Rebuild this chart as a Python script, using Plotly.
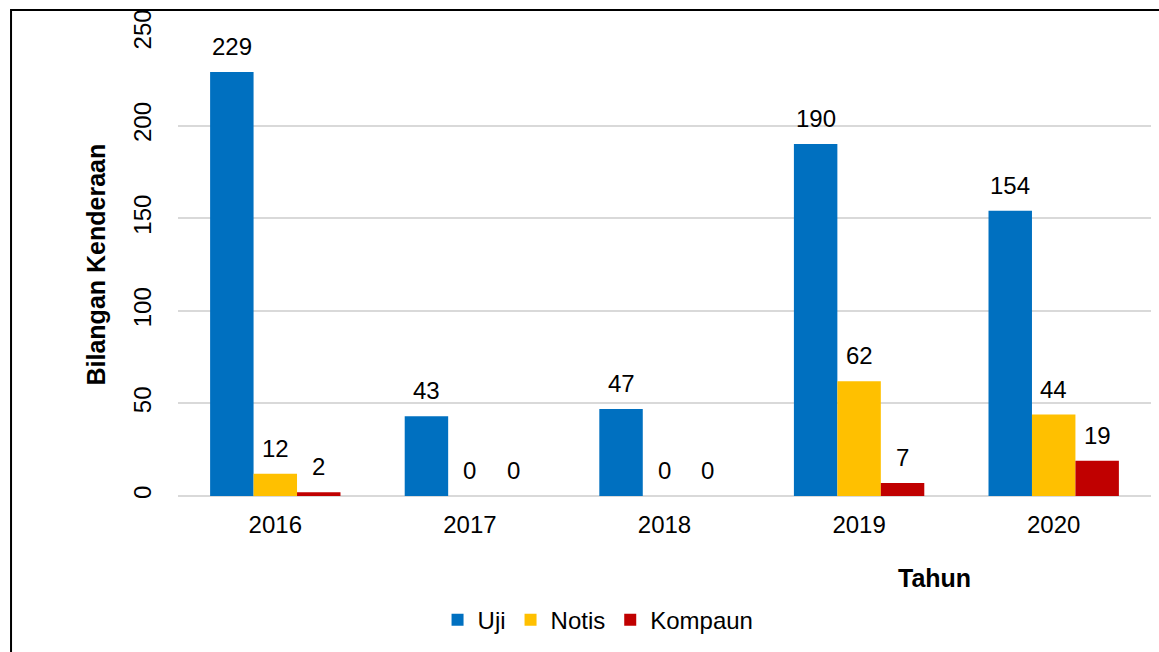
import plotly.graph_objects as go

years = ["2016", "2017", "2018", "2019", "2020"]
uji = [229, 43, 47, 190, 154]
notis = [12, 0, 0, 62, 44]
kompaun = [2, 0, 0, 7, 19]

series = [
    ("Uji", uji, "#0070C0"),
    ("Notis", notis, "#FFC000"),
    ("Kompaun", kompaun, "#C00000"),
]

FONT = "Liberation Sans, Arial, sans-serif"
BARGAP = 0.33
n_series = len(series)
bar_w = (1 - BARGAP) / n_series
xpos = list(range(len(years)))

fig = go.Figure()
annotations = []
for k, (name, vals, color) in enumerate(series):
    fig.add_trace(go.Bar(
        name=name, x=xpos, y=vals,
        marker=dict(color=color, line=dict(width=0)),
    ))
    offset = (k - (n_series - 1) / 2) * bar_w
    for xi, v in zip(xpos, vals):
        annotations.append(dict(
            x=xi + offset, y=v, xref="x", yref="y",
            text=str(v), showarrow=False, xanchor="center", yanchor="bottom",
            yshift=10, font=dict(size=24, color="#000000", family=FONT),
        ))

# Axis titles
annotations.append(dict(
    x=-0.0853, y=0.5, xref="paper", yref="paper",
    xanchor="center", yanchor="middle",
    text="<b>Bilangan Kenderaan</b>", textangle=-90, showarrow=False,
    font=dict(size=25, color="#000000", family=FONT),
))
annotations.append(dict(
    x=0.777, y=-0.177, xref="paper", yref="paper",
    xanchor="center", yanchor="middle",
    text="<b>Tahun</b>", showarrow=False,
    font=dict(size=25, color="#000000", family=FONT),
))

fig.update_layout(
    width=1159, height=652,
    margin=dict(l=178, r=8, t=33, b=156),
    barmode="group", bargap=BARGAP, bargroupgap=0,
    plot_bgcolor="white", paper_bgcolor="white",
    font=dict(family=FONT, size=24, color="#000000"),
    showlegend=True,
    legend=dict(
        orientation="h", x=0.4317, y=-0.268, xanchor="center", yanchor="middle",
        font=dict(size=24, family=FONT), itemwidth=30, traceorder="normal",
    ),
    annotations=annotations,
    shapes=[dict(
        type="rect", xref="paper", yref="paper",
        x0=-0.1716, x1=1.5, y0=-1.0, y1=1.0497,
        line=dict(color="#000000", width=2), fillcolor="rgba(0,0,0,0)",
        layer="below",
    )],
)

fig.update_xaxes(
    tickmode="array", tickvals=xpos, ticktext=years,
    range=[-0.5, len(years) - 0.5],
    showgrid=False, zeroline=False, showline=False, ticks="",
    tickfont=dict(size=24), ticklabelstandoff=12,
)
fig.update_yaxes(
    range=[0, 250], tickvals=[0, 50, 100, 150, 200, 250],
    showgrid=True, gridcolor="#D9D9D9", gridwidth=2,
    zeroline=True, zerolinecolor="#D9D9D9", zerolinewidth=2,
    showline=False, ticks="", tickangle=-90,
    tickfont=dict(size=24), ticklabelstandoff=21,
)

fig.write_html("out.html")
